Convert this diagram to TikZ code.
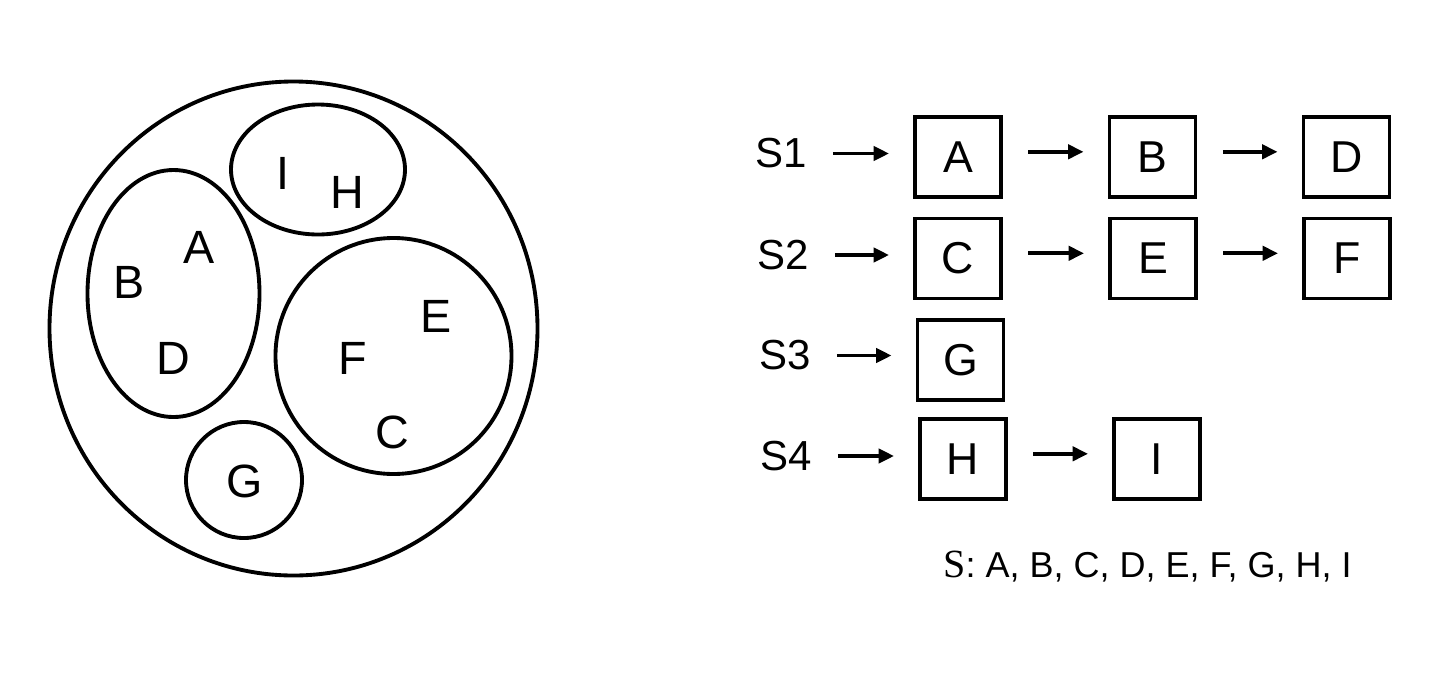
\documentclass[tikz,border=0pt]{standalone}
\usepackage{fontspec}
\setmainfont{Liberation Sans}
\newfontfamily\serifS{Liberation Serif}
\usetikzlibrary{arrows.meta}
\begin{document}
\begin{tikzpicture}[x=0.75pt,y=-0.75pt,
  ring/.style={draw=black,line width=2.9pt},
  setletter/.style={inner sep=0pt,font={\fontsize{35pt}{40pt}\selectfont}},
  elem/.style={draw=black,line width=2.9pt,minimum width=64.5pt,minimum height=60pt,inner sep=0pt,font={\fontsize{33.5pt}{40pt}\selectfont}},
  slabel/.style={inner sep=0pt,anchor=east,font={\fontsize{31.5pt}{36pt}\selectfont}},
  arr/.style={line width=2.9pt,-{Triangle[length=11.5pt,width=10.5pt]},shorten <=19pt,shorten >=18pt}
]
\useasboundingbox (0,0) rectangle (1450,672);
% left: nested sets
\draw[ring] (293.5,328.5) ellipse [x radius=244, y radius=247];
\draw[ring] (318,169.5) ellipse [x radius=87, y radius=65];
\draw[ring] (173.5,293.5) ellipse [x radius=86, y radius=123.5];
\draw[ring] (393.5,356) circle [radius=118];
\draw[ring] (244,480) circle [radius=58];
\node[setletter] (lI) at (283,173) {I};
\node[setletter] (lH) at (347,192) {H};
\node[setletter] (lA) at (199.5,247) {A};
\node[setletter] (lB) at (129.5,282.5) {B};
\node[setletter] (lD) at (173.5,358) {D};
\node[setletter] (lE) at (436,316) {E};
\node[setletter] (lF) at (353,358) {F};
\node[setletter] (lC) at (392.5,432.5) {C};
\node[setletter] (lG) at (244.5,481) {G};
% right: lists
\node[slabel] (S1) at (807.5,153.5) {S1};
\node[slabel] (S2) at (809.5,255) {S2};
\node[slabel] (S3) at (811.5,355.5) {S3};
\node[slabel] (S4) at (812.5,456) {S4};
\node[elem] (A) at (958,157) {A};
\node[elem] (B) at (1152.5,157) {B};
\node[elem] (D) at (1346.5,157) {D};
\node[elem] (C) at (958,258.5) {C};
\node[elem] (E) at (1153,258.5) {E};
\node[elem] (F) at (1347,258.5) {F};
\node[elem] (G) at (960.5,360) {G};
\node[elem] (H) at (963,459) {H};
\node[elem] (I) at (1157,459) {I};
\draw[arr] (S1.east) -- (S1.east -| A.west);
\draw[arr] (S2.east) -- (S2.east -| C.west);
\draw[arr] (S3.east) -- (S3.east -| G.west);
\draw[arr] (S4.east) -- (S4.east -| H.west);
\draw[arr] ([yshift=3.9pt]A.east) -- ([yshift=3.9pt]B.west);
\draw[arr] ([yshift=3.9pt]B.east) -- ([yshift=3.9pt]D.west);
\draw[arr] ([yshift=3.9pt]C.east) -- ([yshift=3.9pt]E.west);
\draw[arr] ([yshift=3.9pt]E.east) -- ([yshift=3.9pt]F.west);
\draw[arr] ([yshift=3.9pt]H.east) -- ([yshift=3.9pt]I.west);
\node[inner sep=0pt,anchor=base,font={\fontsize{27pt}{32pt}\selectfont}] (legend) at (1147.5,577) {{\serifS\fontsize{30pt}{32pt}\selectfont S}: A, B, C, D, E, F, G, H, I};
\end{tikzpicture}
\end{document}
